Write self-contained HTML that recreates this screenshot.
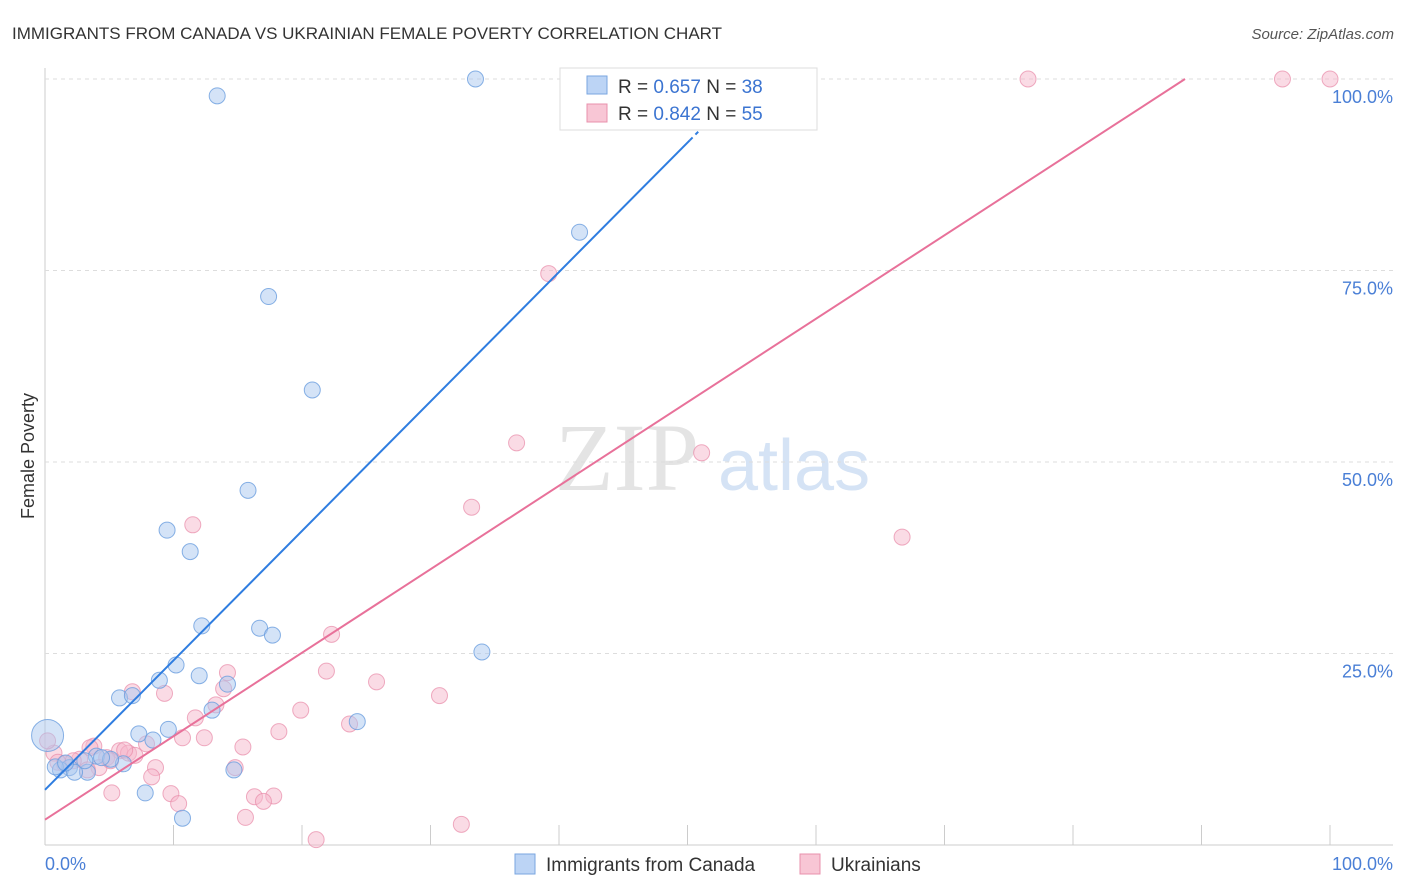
<!DOCTYPE html>
<html><head><meta charset="utf-8"><style>
body{margin:0;background:#fff;font-family:"Liberation Sans",sans-serif}
svg{display:block}
</style></head><body>
<svg id="chart" width="1406" height="892">
<text x="12" y="39" font-size="17" fill="#333">IMMIGRANTS FROM CANADA VS UKRAINIAN FEMALE POVERTY CORRELATION CHART</text>
<text x="1394" y="39" font-size="15" fill="#555" font-style="italic" text-anchor="end">Source: ZipAtlas.com</text>
<text x="34" y="456" font-size="18" fill="#333" text-anchor="middle" transform="rotate(-90 34 456)">Female Poverty</text>
<text x="555" y="490" font-size="96" fill="#e4e4e4" font-family="Liberation Serif">ZIP</text>
<text x="718" y="490" font-size="72" fill="#d5e3f5">atlas</text>
<g id="grid"></g><g id="pts"></g><g id="lines"></g>
<g>
<rect x="560" y="68" width="257" height="62" fill="#fff" stroke="#ddd"/>
<rect x="587" y="76" width="20" height="18" fill="#bcd4f5" stroke="#7aa6e0"/>
<text x="618" y="93" font-size="19" fill="#333">R = <tspan fill="#3b74d1">0.657</tspan>   N = <tspan fill="#3b74d1">38</tspan></text>
<rect x="587" y="104" width="20" height="18" fill="#f8c6d5" stroke="#e890ac"/>
<text x="618" y="120" font-size="19" fill="#333">R = <tspan fill="#3b74d1">0.842</tspan>   N = <tspan fill="#3b74d1">55</tspan></text>
</g>
<g>
<rect x="515" y="854" width="20" height="20" fill="#bcd4f5" stroke="#7aa6e0"/>
<text x="546" y="871" font-size="19" fill="#333">Immigrants from Canada</text>
<rect x="800" y="854" width="20" height="20" fill="#f8c6d5" stroke="#e890ac"/>
<text x="831" y="871" font-size="19" fill="#333">Ukrainians</text>
</g>
</svg>
<script>
const blueX=[13.4,33.5,41.6,17.4,20.8,15.8,9.5,11.3,12.2,16.7,17.7,34.0,10.2,8.9,12.0,14.2,5.8,6.8,13.0,24.3,7.3,9.6,8.4,6.1,4.0,5.1,3.3,1.9,1.2,0.8,2.3,7.8,10.7,14.7,0.2,3.1,1.6,4.4];
const blueY=[97.8,100,80,71.6,59.4,46.3,41.1,38.3,28.6,28.3,27.4,25.2,23.5,21.5,22.1,21.0,19.2,19.5,17.6,16.1,14.5,15.1,13.7,10.6,11.6,11.2,9.5,10.1,9.8,10.2,9.5,6.8,3.5,9.8,14.3,11.0,10.7,11.4];
const pinkX=[48.6,76.5,96.3,100,39.2,36.7,51.1,33.2,66.7,11.5,22.3,21.9,14.2,25.8,9.3,6.8,30.7,13.9,13.3,19.9,23.7,11.7,18.2,10.7,12.4,7.9,15.4,3.8,5.8,6.5,0.7,2.7,4.8,8.6,8.3,14.8,1.5,4.2,9.8,5.2,16.3,17.8,17.0,10.4,15.6,32.4,21.1,3.3,2.2,7.0,1.0,0.2,3.5,6.2,5.1];
const pinkY=[100,100,100,100,74.6,52.5,51.2,44.1,40.2,41.8,27.5,22.7,22.5,21.3,19.8,20.0,19.5,20.4,18.3,17.6,15.8,16.6,14.8,14.0,14.0,13.2,12.8,12.9,12.3,12.0,12.0,11.2,11.4,10.1,8.9,10.1,10.6,10.1,6.7,6.8,6.3,6.4,5.7,5.4,3.6,2.7,0.7,9.8,11.0,11.7,10.8,13.6,12.7,12.4,11.0];
const blueLine=[7.2,1.69], pinkLine=[3.3,1.09];
const xTicks=[0,10,20,30,40,50,60,70,80,90,100];
const yTicks=[25,50,75,100];
const X=v=>45+v*12.85, Y=v=>845-v*7.66;
const NS="http://www.w3.org/2000/svg";
function mk(p,t,a){const e=document.createElementNS(NS,t);for(const k in a)e.setAttribute(k,a[k]);p.appendChild(e);return e;}
const g=document.getElementById('grid');
let ax=mk(g,'line',{x1:45,y1:68,x2:45,y2:845,stroke:'#ccc'});


let bx=mk(g,'line',{x1:45,y1:845,x2:1393,y2:845,stroke:'#ccc'});


yTicks.forEach(v=>{
 const l=mk(g,'line',{x1:45,y1:Y(v),x2:1393,y2:Y(v),stroke:'#ddd','stroke-dasharray':'4,4'});
 
 
 const t=mk(g,'text',{x:1393,y:Y(v)+24,'font-size':18,fill:'#4a7fd6','text-anchor':'end'});
 t.textContent=v.toFixed(1)+'%';
 
 
});
xTicks.forEach(v=>{
 const l=mk(g,'line',{x1:X(v),y1:825,x2:X(v),y2:845,stroke:'#ccc'});
 
 
});
[[0,'0.0%','start',45],[100,'100.0%','end',1393]].forEach(a=>{
 const t=mk(g,'text',{x:a[3],y:870,'font-size':18,fill:'#4a7fd6','text-anchor':a[2]});
 t.textContent=a[1];
 
 
});
const p=document.getElementById('pts');
pinkX.forEach((x,i)=>{
 const c=mk(p,'circle',{cx:X(x),cy:Y(pinkY[i]),r:8,fill:'#f5b8cb','fill-opacity':0.5,stroke:'#e88aa8','stroke-opacity':0.7});
 
 
});
blueX.forEach((x,i)=>{
 const c=mk(p,'circle',{cx:X(x),cy:Y(blueY[i]),r:i==34?16:8,fill:'#a9c8f0','fill-opacity':0.5,stroke:'#6a9ede','stroke-opacity':0.8});
 
 
});
const L=document.getElementById('lines');
const bEnd=(92-blueLine[0])/blueLine[1];
let bl=mk(L,'line',{x1:X(0),y1:Y(blueLine[0]),x2:X(bEnd),y2:Y(blueLine[0]+blueLine[1]*bEnd),stroke:'#2f7de0','stroke-width':2});


let bd=mk(L,'line',{x1:X(bEnd),y1:Y(blueLine[0]+blueLine[1]*bEnd),x2:X((100-blueLine[0])/blueLine[1]),y2:Y(100),stroke:'#2f7de0','stroke-width':2,'stroke-dasharray':'4,4'});


const pEnd=(100-pinkLine[0])/pinkLine[1];
let pl=mk(L,'line',{x1:X(0),y1:Y(pinkLine[0]),x2:X(pEnd),y2:Y(100),stroke:'#e8719a','stroke-width':2});


</script>
</body></html>
